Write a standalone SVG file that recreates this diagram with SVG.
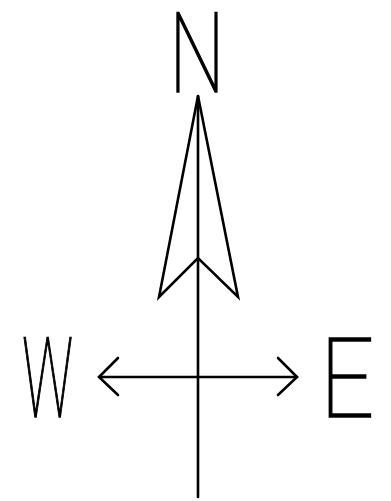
<svg xmlns="http://www.w3.org/2000/svg" width="391" height="501" viewBox="0 0 391 501">
<style>
.ln{fill:none;stroke:#000;stroke-width:2.6;stroke-linejoin:miter;stroke-linecap:round}
.lt{font-family:Roboto,"DejaVu Sans",sans-serif;font-weight:100;font-size:112px;fill:#000;stroke:#000;stroke-width:1.6;text-anchor:middle}
</style>
<rect width="391" height="501" fill="#fff"/>
<g id="connectors">
<path class="ln" d="M198,96 L198,497"/>
<path class="ln" d="M198,96 L159,297 L198,258 L238,297 Z"/>
<path class="ln" d="M100,377 L297,377"/>
<path class="ln" d="M118,358 L99,377 L118,395"/>
<path class="ln" d="M278,358 L297,377 L278,395"/>
</g>
<g id="N"><text class="lt" transform="translate(197,92) scale(0.7,1)">N</text></g>
<g id="W"><text class="lt" transform="translate(47.5,417) scale(0.5,1)">W</text></g>
<g id="E"><text class="lt" transform="translate(347,417) scale(0.85,1)">E</text></g>
</svg>
